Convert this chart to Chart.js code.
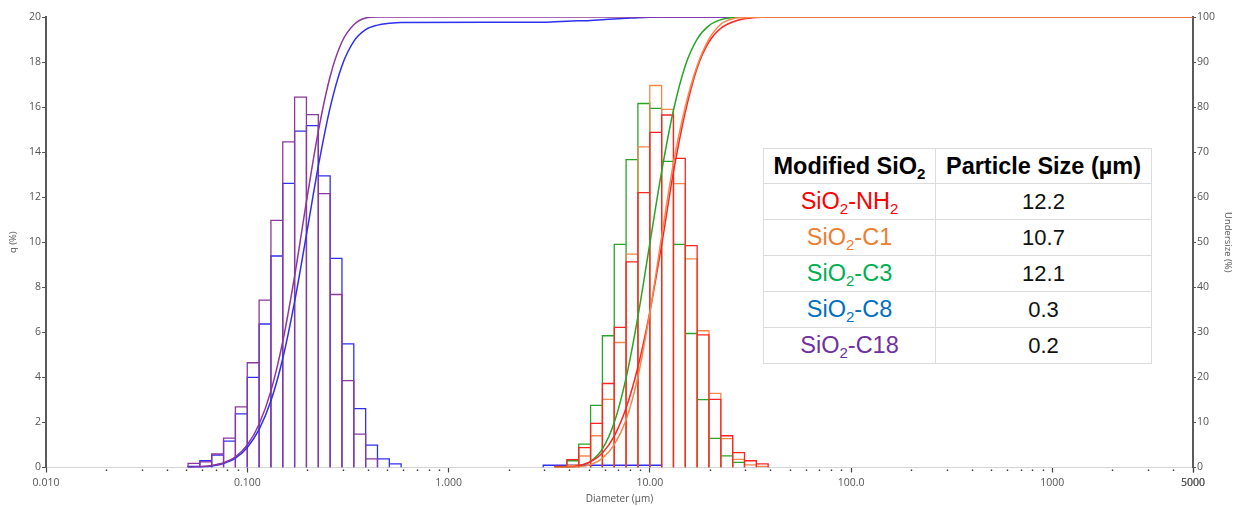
<!DOCTYPE html>
<html>
<head>
<meta charset="utf-8">
<script src="https://cdn.jsdelivr.net/npm/chart.js@4.4.1/dist/chart.umd.min.js"></script>
<style>
  html, body { margin: 0; padding: 0; background: #fff; }
  #wrap { position: relative; width: 1233px; height: 506px; }
  #psd { position: absolute; left: 0; top: 0; }
  #sizeTable {
    position: absolute; left: 763px; top: 148px; width: 389px; height: 213px;
    border-collapse: collapse; background: #fff;
    font-family: "Liberation Sans", Arial, sans-serif; color: #111;
  }
  #sizeTable td, #sizeTable th {
    border: 1px solid #dcdcdc; text-align: center; padding: 0; white-space: nowrap;
  }
  #sizeTable th { font-size: 23.5px; font-weight: bold; height: 34px; color: #000; }
  #sizeTable td { font-size: 22px; height: 35px; }
  #sizeTable td.sample { font-size: 23.5px; }
  #sizeTable sub { font-size: 0.64em; vertical-align: -0.3em; line-height: 0; }
</style>
</head>
<body>
<div id="wrap">
  <canvas id="psd" width="1233" height="506"></canvas>
  <table id="sizeTable"></table>
</div>
<script>
// size classes (um), 17 per decade
const classEdges = [
  0.05079, 0.05815, 0.06659, 0.07625, 0.08730, 0.1000,
  0.1145, 0.1311, 0.1501, 0.1719, 0.1968, 0.2254, 0.2581, 0.2955, 0.3383, 0.3874,
  0.4436, 0.5079, 0.5815, 0.6659, 0.7625, 0.8730, 1.000,
  1.145, 1.311, 1.501, 1.719, 1.968, 2.254, 2.581, 2.955, 3.383, 3.874,
  4.436, 5.079, 5.815, 6.659, 7.625, 8.730, 10.00,
  11.45, 13.11, 15.01, 17.19, 19.68, 22.54, 25.81, 29.55, 33.83, 38.74
];

// q (%) per class, starting at the given lower edge
const startFine = 0.05079;
const startCoarse = 3.383;
const qC18 = [0.18, 0.25, 0.60, 1.30, 2.69, 4.65, 7.43, 10.97, 14.46, 16.44, 15.67, 12.16, 7.68, 3.86, 1.48, 0.38];
const qC8 = [0.05, 0.30, 0.55, 1.17, 2.38, 4.00, 6.37, 9.39, 12.61, 14.93, 15.18, 12.95, 9.28, 5.49, 2.61, 0.99, 0.38, 0.16,
  0, 0, 0, 0, 0, 0, 0, 0, 0, 0, 0, 0,
  0.10, 0.10, 0.10, 0.10, 0.10, 0.10, 0.10, 0.10, 0.10, 0.10];
const qNH2 = [0.05, 0.35, 0.88, 1.96, 3.73, 6.22, 9.13, 12.20, 14.88, 15.65, 13.72, 9.85, 5.89, 3.02, 1.41, 0.66, 0.30, 0.16];
const qC1 = [0.03, 0.10, 0.51, 1.41, 3.02, 5.55, 9.47, 14.23, 16.96, 15.90, 12.60, 9.26, 6.07, 3.29, 1.28, 0.36, 0.12, 0.05];
const qC3 = [0.02, 0.30, 1.04, 2.76, 5.85, 9.91, 13.67, 16.16, 15.94, 13.59, 9.91, 5.95, 3.01, 1.29, 0.52, 0.23];

// undersize (%) at class edges, same starting edges (null = no reading)
const uC18 = [0, 0.2, 0.45, 1.05, 2.35, 5.0, 9.6, 17.0, 28.0, 42.5, 59.0, 74.6, 86.8, 94.5, 98.3, 99.8, 100];
const uC8 = [0, 0.05, 0.35, 0.9, 2.07, 4.45, 8.45, 14.8, 24.2, 36.8, 51.7, 66.9, 79.9, 89.2, 94.6, 97.2, 98.2, 98.6, 98.8,
  null, null, null, null, null, null, null, null, null, null, null,
  98.85, 98.95, 99.05, 99.15, 99.25, 99.4, 99.55, 99.7, 99.85, 99.95, 100];
const uNH2 = [0, 0.05, 0.4, 1.28, 3.24, 6.97, 13.19, 22.3, 34.5, 49.4, 65.6, 78.9, 88.7, 94.5, 97.5, 98.9, 99.6, 99.9, 100];
const uC1 = [0, 0.03, 0.13, 0.64, 2.05, 5.07, 10.6, 20.1, 34.3, 51.3, 67.6, 80.1, 89.2, 95.1, 98.4, 99.6, 99.85, 99.95, 100];
const uC3 = [0, 0.02, 0.32, 1.36, 4.12, 9.97, 19.9, 33.5, 49.7, 65.7, 79.3, 89.2, 95.1, 98.1, 99.4, 99.9, 100];

const xMin = 0.01;
const xMax = 5000;
const xTickValues = [0.01, 0.1, 1, 10, 100, 1000, 5000];
const xTickLabels = ['0.010', '0.100', '1.000', '10.00', '100.0', '1000', '5000'];

// table
const tableHeader = ['Modified SiO<sub>2</sub>', 'Particle Size (\u00b5m)'];
const tableSamples = ['SiO<sub>2</sub>-NH<sub>2</sub>', 'SiO<sub>2</sub>-C1', 'SiO<sub>2</sub>-C3', 'SiO<sub>2</sub>-C8', 'SiO<sub>2</sub>-C18'];
const tableSizes = ['12.2', '10.7', '12.1', '0.3', '0.2'];
const tableColors = ['#ff0000', '#ed7d31', '#00b050', '#0070c0', '#7030a0'];

const lineColors = {
  nh2: '#ff2424',
  c1: '#f5874a',
  c3: '#27a527',
  c8: '#2f2ff2',
  c18: '#8c379e'
};

function histogramPoints(start, values) {
  const i0 = classEdges.indexOf(start);
  const pts = [];
  values.forEach((v, k) => {
    const a = classEdges[i0 + k], b = classEdges[i0 + k + 1];
    if (!v) { pts.push({ x: a, y: null }); return; }
    pts.push({ x: a, y: 0 }, { x: a, y: v }, { x: b, y: v }, { x: b, y: 0 });
  });
  return pts;
}

function undersizePoints(start, values) {
  const i0 = classEdges.indexOf(start);
  const pts = [];
  values.forEach((v, k) => {
    if (v !== null) pts.push({ x: classEdges[i0 + k], y: v });
  });
  pts.push({ x: xMax, y: 100 });
  return pts;
}

function histSet(label, start, values, color, order) {
  return {
    label: label, data: histogramPoints(start, values), yAxisID: 'y',
    borderColor: color, borderWidth: 1.3, pointRadius: 0, tension: 0,
    spanGaps: false, fill: false, order: order
  };
}

function curveSet(label, start, values, color, order) {
  return {
    label: label, data: undersizePoints(start, values), yAxisID: 'y2',
    borderColor: color, borderWidth: 1.5, pointRadius: 0,
    cubicInterpolationMode: 'monotone', fill: false, order: order
  };
}

const axisFont = { family: 'Open Sans', size: 10.5 };
const axisColor = '#555';

function isXLabel(v) {
  return xTickValues.findIndex(t => Math.abs(t - v) / t < 1e-6);
}

new Chart(document.getElementById('psd'), {
  type: 'line',
  data: {
    datasets: [
      curveSet('C1 undersize', startCoarse, uC1, lineColors.c1, 1),
      curveSet('NH2 undersize', startCoarse, uNH2, lineColors.nh2, 2),
      curveSet('C3 undersize', startCoarse, uC3, lineColors.c3, 3),
      curveSet('C18 undersize', startFine, uC18, lineColors.c18, 4),
      curveSet('C8 undersize', startFine, uC8, lineColors.c8, 5),
      histSet('NH2', startCoarse, qNH2, lineColors.nh2, 6),
      histSet('C1', startCoarse, qC1, lineColors.c1, 7),
      histSet('C3', startCoarse, qC3, lineColors.c3, 8),
      histSet('C18', startFine, qC18, lineColors.c18, 9),
      histSet('C8', startFine, qC8, lineColors.c8, 10)
    ]
  },
  options: {
    responsive: false,
    animation: false,
    events: [],
    layout: { autoPadding: false, padding: { top: 17, left: 0, right: 0, bottom: 0 } },
    plugins: { legend: { display: false }, tooltip: { enabled: false } },
    scales: {
      x: {
        type: 'logarithmic', min: xMin, max: xMax,
        afterFit: s => { s.height = 38.5; },
        afterBuildTicks: s => {
          const ticks = [];
          for (let d = xMin; d < xMax; d *= 10) {
            for (let m = 1; m < 10; m++) {
              const v = +(d * m).toPrecision(6);
              if (v <= xMax) ticks.push({ value: v, major: isXLabel(v) >= 0 });
            }
          }
          ticks.push({ value: xMax, major: true });
          s.ticks = ticks;
        },
        border: { color: '#d4d4d4', width: 1 },
        grid: {
          drawOnChartArea: false, drawTicks: true, tickLength: 5,
          tickColor: c => (c.tick && c.tick.major) ? '#444' : '#333',
          tickWidth: c => (c.tick && c.tick.major) ? 1.2 : 1.4,
          tickBorderDash: c => (c.tick && c.tick.major) ? [] : [0, 1.5, 1.5, 10]
        },
        ticks: {
          autoSkip: false, maxRotation: 0, padding: 4, font: axisFont, color: axisColor,
          callback: v => { const i = isXLabel(v); return i >= 0 ? xTickLabels[i] : ''; }
        },
        title: { display: true, text: 'Diameter (\u00b5m)', font: { family: 'Open Sans', size: 10 }, color: axisColor, padding: { top: 0, bottom: 1 } }
      },
      y: {
        position: 'left', min: 0, max: 20,
        afterFit: s => { s.width = 46; },
        border: { display: true, color: '#5a5a5a', width: 2, dash: [1, 1] },
        grid: { drawOnChartArea: false, tickLength: 4, tickColor: '#555' },
        ticks: { stepSize: 2, padding: 1, font: axisFont, color: axisColor },
        title: { display: true, text: 'q (%)', font: { family: 'Open Sans', size: 9.5 }, color: axisColor, padding: { top: 8, bottom: 0 } }
      },
      y2: {
        position: 'right', min: 0, max: 100,
        afterFit: s => { s.width = 40; },
        border: { display: true, color: '#5a5a5a', width: 2, dash: [1, 1] },
        grid: { drawOnChartArea: false, tickLength: 3, tickColor: '#555' },
        ticks: { stepSize: 10, padding: 1, font: axisFont, color: axisColor },
        title: { display: true, text: 'Undersize (%)', font: { family: 'Open Sans', size: 9.5 }, color: axisColor, padding: { top: 0, bottom: 5 } }
      }
    }
  }
});

// particle size table
const table = document.getElementById('sizeTable');
let html = '<tr><th style="width:171px">' + tableHeader[0] + '</th><th>' + tableHeader[1] + '</th></tr>';
tableSamples.forEach((s, i) => {
  html += '<tr><td class="sample" style="color:' + tableColors[i] + '">' + s + '</td><td>' + tableSizes[i] + '</td></tr>';
});
table.innerHTML = html;
</script>
</body>
</html>
